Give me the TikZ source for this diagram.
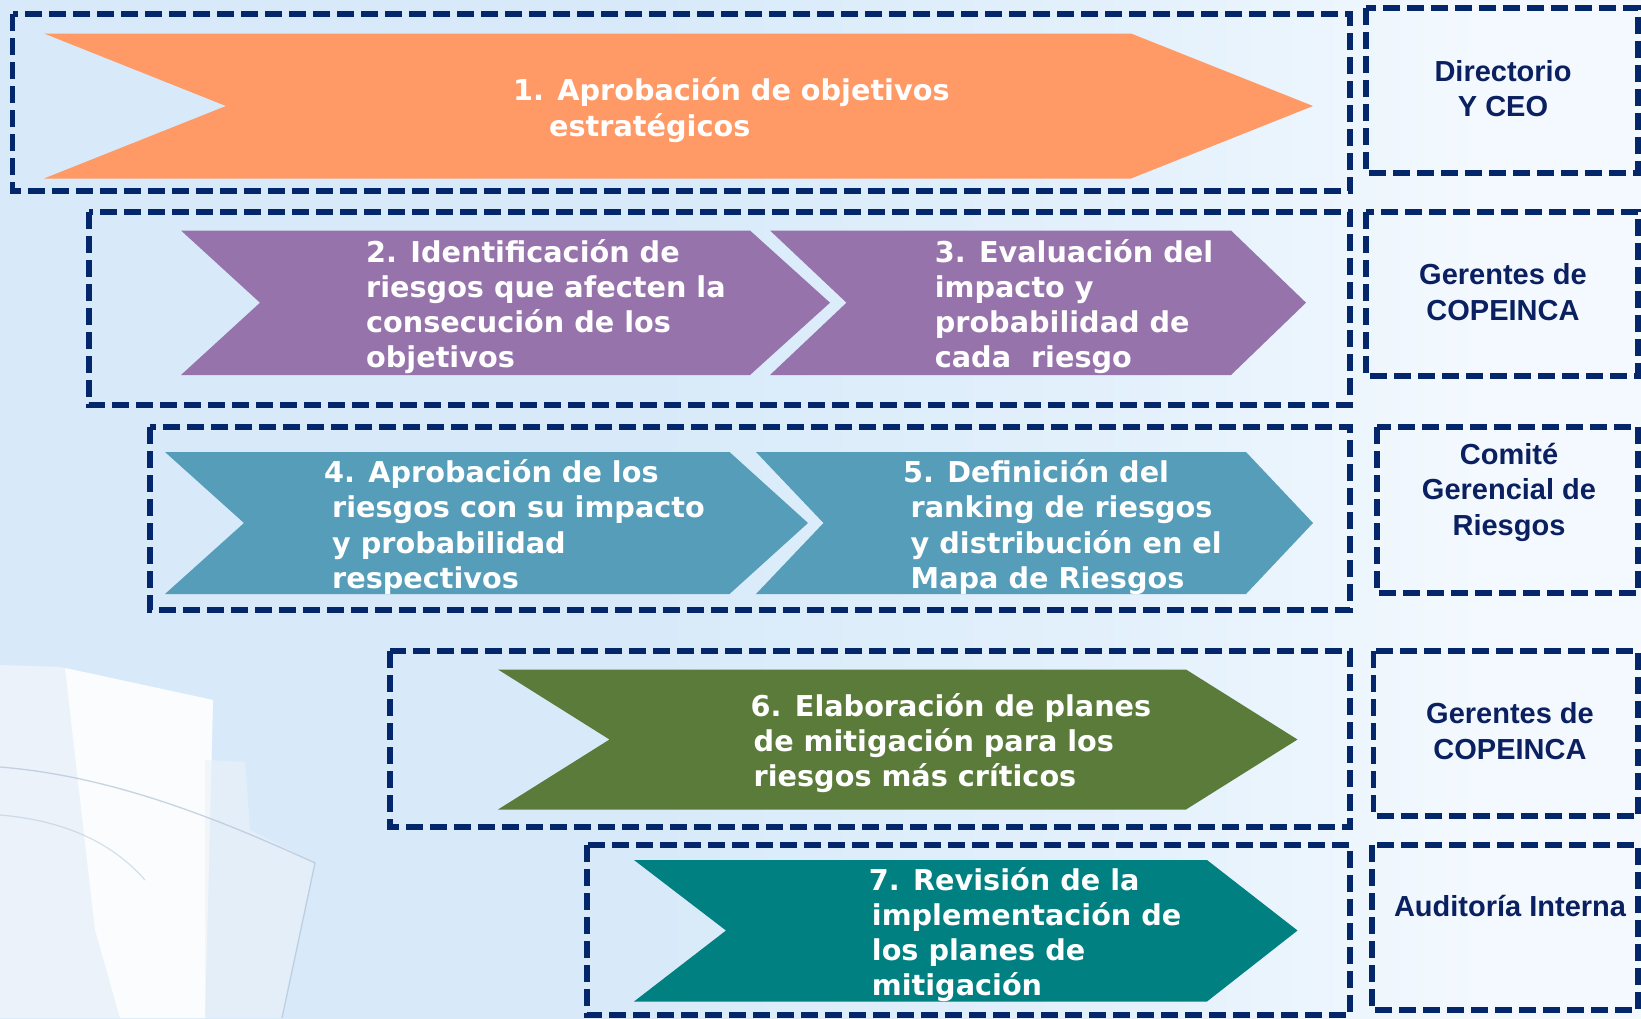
\documentclass[tikz,border=0pt]{standalone}
\usepackage{fontspec}
\newfontfamily\stepfont{DejaVu Sans}
\newfontfamily\labfont{Liberation Sans}
\definecolor{navy}{RGB}{4,38,106}
\definecolor{labnavy}{RGB}{10,32,96}
\definecolor{corange}{RGB}{255,153,102}
\definecolor{cpurple}{RGB}{151,115,172}
\definecolor{cblue}{RGB}{85,157,184}
\definecolor{cgreen}{RGB}{91,123,58}
\definecolor{cteal}{RGB}{0,128,128}
\definecolor{bgl}{RGB}{216,234,249}
\definecolor{bgm}{RGB}{228,241,252}
\definecolor{bgr}{RGB}{243,249,254}
\definecolor{glassline}{RGB}{175,195,215}
\definecolor{glasswhite}{RGB}{236,242,249}
\definecolor{glassbright}{RGB}{250,252,254}
\pgfdeclarehorizontalshading{bgshade}{100bp}{color(0bp)=(bgl); color(25bp)=(bgl); color(45bp)=(bgl); color(60bp)=(bgm); color(70bp)=(bgr); color(75bp)=(bgr); color(100bp)=(bgr)}
\newcommand\mychev[8]{\fill[#1] (#2,#3) -- (#7,#3) -- (#8,#6) -- (#7,#4) -- (#2,#4) -- (#5,#6) -- cycle;}
\tikzset{
  dbox/.style={draw=navy, line width=5.2pt, dash pattern=on 17pt off 7pt},
  steptext/.style={text=white, font=\stepfont\bfseries\fontsize{28.7}{35.2}\selectfont, align=left, anchor=west, inner sep=0pt},
  labtext/.style={text=labnavy, font=\labfont\bfseries\fontsize{29}{35.5}\selectfont, align=center, inner sep=0pt},
}
\begin{document}
\begin{tikzpicture}[x=1pt,y=-1pt]
\useasboundingbox (0,0) rectangle (1641,1018);
% background
\shade[shading=bgshade] (0,0) rectangle (1641,1018);
% glass decoration bottom-left
\fill[glasswhite] (0,665) -- (60,667) -- (213,700) -- (205,1018) -- (0,1018) -- cycle;
\fill[glassbright] (65,668) -- (213,700) -- (205,1018) -- (120,1018) -- (95,930) -- cycle;
\fill[glasswhite, opacity=0.6] (205,760) -- (245,762) -- (250,830) -- (315,863) -- (282,1018) -- (205,1018) -- cycle;
\draw[glassline, line width=1.3pt, opacity=0.7] (0,767) .. controls (100,775) and (200,810) .. (315,863) -- (282,1018);
\draw[glassline, line width=1.2pt, opacity=0.5] (0,815) .. controls (60,820) and (110,840) .. (145,880);
% dashed boxes
\draw[dbox] (12.5,14) rectangle (1350,191);
\draw[dbox] (89,212) rectangle (1350,405);
\draw[dbox] (150,427) rectangle (1350,610);
\draw[dbox] (390,651) rectangle (1350,827);
\draw[dbox] (587,845) rectangle (1350,1015);
\draw[dbox] (1366,8) rectangle (1638,173);
\draw[dbox] (1366,212) rectangle (1638,376);
\draw[dbox] (1377,427) rectangle (1638,593);
\draw[dbox] (1373.5,651) rectangle (1638,816);
\draw[dbox] (1372,845) rectangle (1638,1010);
% chevrons: colour, left, top, bottom, notch, mid, shoulder, tip
\mychev{corange}{44}{33.5}{178.5}{226}{106}{1131}{1313}
\mychev{cpurple}{181}{230.5}{375}{260}{302.7}{750}{830}
\mychev{cpurple}{770}{230.5}{375}{846.5}{302.7}{1231}{1306}
\mychev{cblue}{165}{452}{594}{244}{523}{729.5}{808}
\mychev{cblue}{756}{452}{594}{823.5}{523}{1246}{1313}
\mychev{cgreen}{498}{669.5}{809.5}{609.5}{739.5}{1186}{1297.5}
\mychev{cteal}{634}{860}{1001.5}{726}{930.5}{1207}{1297.5}
% step texts
\node[steptext] (t1) at (513,111.5) {\strut 1. Aprobación de objetivos\\\hspace*{36pt}\strut estratégicos};
\node[steptext] (t2) at (366,308) {\strut 2. Identificación de\\\strut riesgos que afecten la\\\strut consecución de los\\\strut objetivos};
\node[steptext] (t3) at (934.6,308) {\strut 3. Evaluación del\\\strut impacto y\\\strut probabilidad de\\\strut cada\ \ riesgo};
\node[steptext] (t4) at (324,528.5) {\strut 4. Aprobación de los\\\hspace*{8pt}\strut riesgos con su impacto\\\hspace*{8pt}\strut y probabilidad\\\hspace*{8pt}\strut respectivos};
\node[steptext] (t5) at (903,528.5) {\strut 5. Definición del\\\hspace*{7.5pt}\strut ranking de riesgos\\\hspace*{7.5pt}\strut y distribución en el\\\hspace*{7.5pt}\strut Mapa de Riesgos};
\node[steptext] (t6) at (750.5,744.5) {\strut 6. Elaboración de planes\\\hspace*{3pt}\strut de mitigación para los\\\hspace*{3pt}\strut riesgos más críticos};
\node[steptext] (t7) at (868.7,936) {\strut 7. Revisión de la\\\hspace*{3pt}\strut implementación de\\\hspace*{3pt}\strut los planes de\\\hspace*{3pt}\strut mitigación};
% role labels
\node[labtext] (l1) at (1503,88.5) {Directorio\\Y CEO};
\node[labtext] (l2) at (1503,292) {Gerentes de\\COPEINCA};
\node[labtext] (l3) at (1509,492) {Comité\\Gerencial de\\Riesgos};
\node[labtext] (l4) at (1510,731) {Gerentes de\\COPEINCA};
\node[labtext] (l5) at (1510,906) {Auditoría Interna};
\end{tikzpicture}
\end{document}
